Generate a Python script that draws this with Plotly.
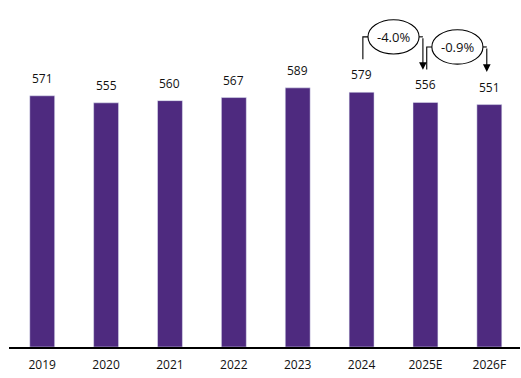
import plotly.graph_objects as go

categories = ["2019", "2020", "2021", "2022", "2023", "2024", "2025E", "2026F"]
values = [571, 555, 560, 567, 589, 579, 556, 551]
changes = [("2024", "2025E", "-4.0%"), ("2025E", "2026F", "-0.9%")]

BAR = "#4E2A7F"
FONT = "Open Sans"
xs = list(range(len(categories)))

fig = go.Figure(go.Bar(x=xs, y=values, marker_color=BAR, width=0.39,
                       hoverinfo="skip"))

for x, v in zip(xs, values):
    fig.add_annotation(x=x, y=v, text=str(v), showarrow=False, yanchor="bottom",
                       yshift=7, font=dict(family=FONT, size=12, color="#111"))

for a, b, lab in changes:
    i, j = categories.index(a), categories.index(b)
    va, vb = values[i], values[j]
    top = max(va, vb) + 126
    xa, xb = i + 0.02, j - 0.04
    start = va + 75
    end = vb + 74
    cx = (i + j) / 2
    hw, hh = 0.40, 39
    fig.add_shape(type="path", path=f"M {xa},{start} L {xa},{top} L {cx-hw},{top}",
                  line=dict(color="#000", width=1.1), xref="x", yref="y")
    fig.add_shape(type="path", path=f"M {cx+hw},{top} L {xb},{top}",
                  line=dict(color="#000", width=1.1), xref="x", yref="y")
    fig.add_annotation(x=xb, y=end, ax=xb, ay=top, axref="x", ayref="y",
                       xref="x", yref="y", text="", showarrow=True,
                       arrowhead=2, arrowsize=1.4, arrowwidth=1.1, arrowcolor="#000",
                       standoff=0)
    fig.add_shape(type="circle", x0=cx-hw, x1=cx+hw, y0=top-hh, y1=top+hh,
                  line=dict(color="#000", width=1.1), fillcolor="white",
                  xref="x", yref="y")
    fig.add_annotation(x=cx, y=top, text=lab, showarrow=False,
                       font=dict(family=FONT, size=13, color="#111"))

fig.update_layout(
    width=521, height=378,
    margin=dict(l=9, r=1, t=10, b=31),
    plot_bgcolor="white", paper_bgcolor="white",
    showlegend=False,
    xaxis=dict(tickvals=xs, ticktext=categories, range=[-0.52, 7.48],
               showgrid=False, zeroline=False, showline=True,
               linecolor="#000", linewidth=1.5, ticks="", ticklabelstandoff=6,
               tickfont=dict(family=FONT, size=12, color="#111")),
    yaxis=dict(range=[0, 766], visible=False),
)

fig.write_html("out.html", config={"displayModeBar": False},
               post_script="document.body.style.margin='0';")
